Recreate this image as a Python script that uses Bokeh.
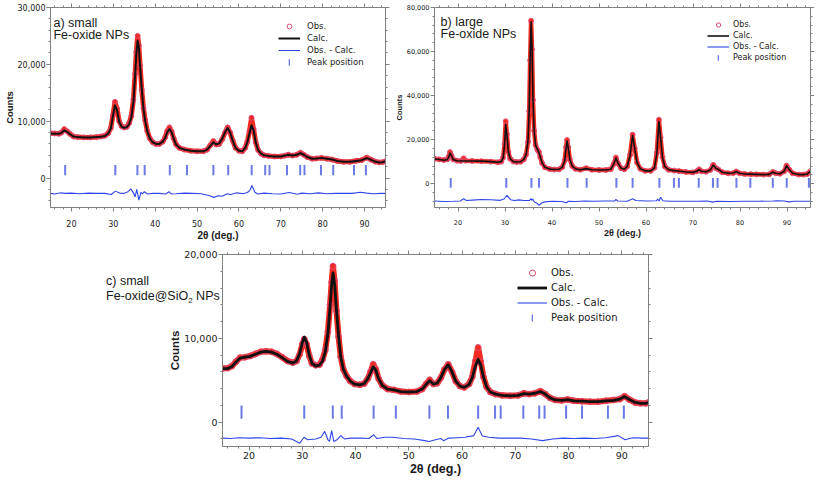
from bokeh.plotting import figure
from bokeh.models import (LinearAxis, SingleIntervalTicker, NumeralTickFormatter,
                          Range1d, Legend, LegendItem, Label, Div)
from bokeh.layouts import column, row
from bokeh.embed import file_html
from bokeh.resources import INLINE

# ---------------- panel a : small Fe-oxide NPs ----------------
a_x = [15.0, 16.0, 17.0, 17.6, 18.3, 19.0, 19.6, 20.5, 21.5, 23.0, 24.5, 26.0, 27.0, 28.0,
       28.8, 29.4, 29.9, 30.4, 30.9, 31.4, 32.0, 32.6, 33.2, 33.8, 34.3, 34.8, 35.2, 35.5,
       35.8, 36.1, 36.4, 36.8, 37.2, 37.6, 38.1, 38.7, 39.4, 40.2, 41.0, 41.8, 42.4, 42.9,
       43.4, 43.9, 44.4, 45.0, 45.8, 47.0, 48.5, 50.0, 51.5, 52.4, 53.2, 53.9, 54.6, 55.3,
       56.0, 56.7, 57.3, 57.9, 58.5, 59.2, 60.0, 60.8, 61.5, 62.0, 62.5, 63.0, 63.5, 64.0,
       64.6, 65.3, 66.0, 67.0, 68.5, 70.0, 71.0, 71.8, 72.8, 73.8, 74.7, 75.5, 76.3, 77.5,
       78.5, 79.7, 81.0, 82.3, 83.5, 85.0, 86.5, 88.0, 89.3, 90.5, 91.5, 92.5, 93.5, 94.3, 95.0]
a_obs = [7900, 7850, 7800, 8000, 8600, 8200, 7800, 7300, 7200, 7150, 7150, 7200, 7300, 7450,
         7900, 8800, 11000, 13400, 12200, 10000, 9100, 8900, 9000, 9700, 10900, 13800, 18300, 22200,
         25000, 23300, 19800, 15500, 12300, 10200, 8300, 7000, 6300, 6000, 6000, 6400, 7200, 8300,
         8900, 8200, 7000, 5900, 5300, 5000, 4800, 4700, 4700, 5000, 5800, 6500, 5900, 6000,
         6800, 8000, 8900, 8000, 6600, 5300, 4800, 4700, 5300, 6400, 8200, 10600, 8600, 6300,
         4900, 4300, 4000, 3900, 3800, 3800, 3950, 4100, 3950, 4100, 4450, 4100, 3700, 3400,
         3450, 3550, 3400, 3250, 3000, 2850, 2850, 3050, 3150, 3600, 3250, 2900, 2750, 2800, 2950]
a_calc = [7850, 7800, 7780, 7950, 8400, 8100, 7750, 7300, 7200, 7150, 7150, 7200, 7250, 7400,
          7850, 8700, 10900, 12800, 11900, 9900, 9000, 8850, 8950, 9500, 10700, 13400, 17900, 21800,
          24200, 23100, 19600, 15600, 12200, 10100, 8300, 7000, 6300, 6000, 6000, 6400, 7100, 8100,
          8600, 8100, 7000, 5900, 5300, 5000, 4800, 4700, 4700, 5000, 5700, 6300, 5900, 6100,
          6900, 8100, 8800, 8000, 6600, 5300, 4800, 4700, 5300, 6300, 7800, 9300, 8400, 6300,
          4900, 4300, 4000, 3900, 3800, 3800, 3950, 4100, 3950, 4100, 4400, 4100, 3700, 3400,
          3450, 3550, 3400, 3250, 3000, 2850, 2850, 3000, 3150, 3500, 3250, 2900, 2750, 2800, 2950]
a_dx = [15, 16, 17.5, 18.5, 20, 22, 24, 26, 28, 29.5, 30.5, 31.5, 32.5, 33.5, 34.2, 34.8, 35.2,
        35.6, 36.1, 36.6, 37.0, 37.4, 38.2, 39.5, 41, 42.5, 43.3, 43.8, 45, 47, 49, 51, 53, 54,
        55, 56, 57.2, 58, 59.5, 61, 62, 62.6, 63.1, 63.8, 64.5, 66, 68, 70, 72, 74, 75, 77, 79,
        81, 83, 85, 87, 89, 90.5, 92, 94, 95]
a_diff = [-2700, -2800, -2600, -2700, -2650, -2750, -2650, -2700, -2700, -2900, -2300, -2650,
          -2700, -2400, -1900, -2600, -3300, -2000, -3900, -2500, -2800, -2400, -2800, -2700,
          -2700, -2800, -2400, -2800, -2750, -2650, -2700, -2750, -3100, -3400, -3100, -3200,
          -2750, -2900, -2600, -2750, -2550, -2200, -1300, -2500, -2800, -2650, -2750, -2800,
          -2550, -2850, -2650, -2750, -2600, -2750, -2700, -2700, -2700, -2500, -2650, -2750,
          -2700, -2700]
a_peaks = [18.5, 30.48, 35.76, 37.49, 43.49, 47.59, 53.9, 57.44, 63.04, 66.27, 67.3, 71.47,
           74.63, 75.65, 79.59, 82.51, 87.48, 90.31]

# ---------------- panel b : large Fe-oxide NPs ----------------
b_x = [15.0, 16.0, 17.0, 17.7, 18.0, 18.3, 18.6, 19.0, 19.8, 20.6, 21.2, 21.6, 23.0, 25.0,
       27.0, 28.5, 29.2, 29.6, 29.9, 30.15, 30.4, 30.7, 31.1, 31.8, 32.5, 33.3, 34.0, 34.5,
       34.9, 35.15, 35.35, 35.55, 35.75, 35.95, 36.2, 36.5, 36.9, 37.2, 37.5, 37.9, 38.5, 39.5,
       40.5, 41.5, 42.2, 42.7, 43.0, 43.2, 43.45, 43.8, 44.3, 45.0, 46.0, 47.3, 48.5, 50.0,
       51.5, 52.5, 53.1, 53.6, 54.1, 54.7, 55.4, 56.0, 56.6, 57.15, 57.6, 58.1, 58.8, 59.8,
       61.0, 61.8, 62.3, 62.75, 63.1, 63.5, 64.0, 64.8, 66.0, 67.0, 68.5, 70.0, 70.8, 71.3,
       71.8, 72.8, 73.7, 74.3, 74.9, 75.4, 76.2, 77.5, 78.6, 79.2, 79.9, 81.0, 82.3, 83.5,
       85.0, 86.2, 87.0, 87.6, 88.5, 89.4, 89.9, 90.5, 91.2, 92.5, 93.5, 94.3, 95.0]
b_obs = [11300, 11000, 10700, 11000, 12200, 14300, 12800, 11000, 10400, 10300, 11500, 10400,
         10300, 10200, 10000, 9700, 10000, 11800, 18000, 28300, 22500, 14500, 11300, 10000,
         9800, 9900, 11000, 13200, 19000, 33000, 56000, 74000, 61000, 38000, 24000, 17500,
         15300, 14500, 12000, 9300, 7400, 6600, 6400, 6500, 7500, 10500, 16500, 19800, 16500,
         11000, 8000, 6700, 6300, 7000, 6300, 6200, 6200, 6500, 8800, 11800, 9000, 7000, 6500,
         7800, 13000, 22200, 16000, 9500, 6700, 5800, 5800, 7200, 14000, 29000, 21000, 12000,
         7800, 6300, 5900, 5700, 5300, 5100, 5600, 6500, 5600, 5400, 6200, 8500, 7000, 6400,
         5200, 4700, 4800, 5500, 4700, 4400, 4300, 4200, 4100, 4200, 5300, 4700, 4500, 5600,
         8200, 6300, 4700, 4100, 4100, 4400, 5700]
b_calc = [11200, 10950, 10650, 10900, 11900, 13900, 12700, 10900, 10400, 10300, 10300, 10300,
          10300, 10200, 10000, 9700, 10000, 11700, 17500, 26800, 22200, 14700, 11300, 10000,
          9800, 9900, 11000, 13300, 19500, 34000, 57000, 73500, 62000, 38500, 24000, 17500,
          15500, 14300, 12200, 9400, 7400, 6600, 6400, 6500, 7500, 10400, 16000, 19300, 16300,
          11000, 8000, 6700, 6300, 6800, 6300, 6200, 6200, 6500, 8700, 11600, 9100, 7000, 6500,
          7800, 12800, 21800, 16000, 9500, 6700, 5800, 5800, 7200, 13500, 28200, 21000, 12000,
          7800, 6300, 5900, 5700, 5300, 5100, 5600, 6400, 5600, 5400, 6200, 8400, 7000, 6400,
          5200, 4700, 4800, 5500, 4700, 4400, 4300, 4200, 4100, 4200, 5200, 4700, 4500, 5600,
          8100, 6300, 4700, 4100, 4100, 4400, 5600]
b_dx = [15, 17, 19, 20.5, 21.2, 21.8, 23, 25, 27, 29, 29.8, 30.4, 31.2, 32, 33, 34, 35.2, 35.5,
        35.7, 35.9, 36.3, 36.8, 37.2, 37.8, 38.5, 40, 42, 43.1, 43.5, 45, 47, 49, 51, 53.3, 53.6,
        54, 56, 57.2, 57.8, 60, 62.2, 62.5, 62.8, 63.1, 63.6, 65, 68, 71, 73, 74.2, 75, 78, 81,
        84, 87, 88, 89.5, 90.3, 91.5, 93, 95]
b_diff = [-7900, -8100, -8000, -7900, -6900, -7700, -7500, -7200, -7300, -7600, -7000, -5300,
          -7300, -7700, -7400, -7700, -7700, -6800, -7600, -7000, -8500, -8800, -9900, -8800,
          -8300, -8000, -8100, -8700, -8000, -8100, -7900, -8000, -7900, -7900, -7200, -7900,
          -8000, -6900, -7700, -7900, -7800, -7100, -7900, -6200, -7800, -8000, -8000, -8000,
          -7900, -8400, -8000, -8100, -8000, -8000, -7900, -7800, -7900, -8300, -8000, -8000,
          -8000]
b_peaks = [18.45, 30.27, 35.62, 37.24, 43.29, 47.37, 53.7, 57.15, 62.85, 65.94, 67.0, 71.22,
           74.24, 75.23, 79.24, 82.2, 86.98, 89.94, 94.66]

# ---------------- panel c : small Fe-oxide@SiO2 NPs ----------------
c_x = [15.0, 16.0, 16.8, 17.5, 18.3, 19.2, 20.2, 21.2, 22.2, 23.2, 24.2, 25.2, 26.2, 27.2,
       28.2, 28.9, 29.5, 30.0, 30.35, 30.8, 31.3, 31.8, 32.5, 33.2, 33.8, 34.3, 34.8, 35.2,
       35.5, 35.75, 36.05, 36.4, 36.8, 37.2, 37.7, 38.3, 39.0, 39.8, 40.8, 41.6, 42.3, 42.8,
       43.3, 43.8, 44.3, 45.0, 46.0, 47.2, 48.5, 50.0, 51.5, 52.5, 53.3, 53.9, 54.6, 55.3,
       56.0, 56.7, 57.4, 58.1, 58.8, 59.6, 60.4, 61.3, 61.9, 62.5, 63.0, 63.5, 64.0, 64.6,
       65.3, 66.3, 67.5, 69.0, 70.5, 71.6, 72.6, 73.7, 74.7, 75.6, 76.5, 77.5, 78.7, 79.8,
       81.0, 82.5, 84.0, 85.5, 87.0, 88.5, 89.6, 90.5, 91.4, 92.5, 93.5, 94.5, 95.0]
c_obs = [6400, 6450, 6700, 7200, 7700, 7750, 7900, 8150, 8400, 8450, 8400, 8150, 7750, 7300,
         7100, 7300, 8100, 9300, 9900, 9300, 7900, 7000, 6800, 6850, 7500, 8600, 10800, 14000,
         16700, 18600, 16800, 13300, 10200, 7800, 6300, 5500, 4900, 4550, 4450, 4600, 5200, 6000,
         6900, 6300, 5200, 4400, 3950, 3850, 3650, 3600, 3650, 3950, 4600, 5050, 4550, 4650,
         5300, 6300, 6900, 6000, 4900, 4300, 4150, 4550, 5400, 7300, 8900, 7200, 5400, 4200,
         3600, 3350, 3200, 3150, 3200, 3450, 3350, 3450, 3700, 3350, 2900, 2650, 2600, 2700,
         2550, 2500, 2450, 2450, 2550, 2650, 2750, 3100, 2700, 2350, 2250, 2250, 2350]
c_calc = [6400, 6400, 6650, 7150, 7650, 7750, 7850, 8100, 8350, 8450, 8350, 8100, 7700, 7250,
          7050, 7300, 8200, 9500, 10150, 9500, 8000, 7000, 6700, 6800, 7300, 8400, 10600, 13800,
          16400, 17800, 16500, 13400, 10300, 7800, 6300, 5500, 4900, 4550, 4450, 4600, 5200, 5900,
          6600, 6200, 5200, 4400, 3950, 3850, 3650, 3600, 3650, 3950, 4550, 4950, 4550, 4650,
          5300, 6300, 6850, 6000, 4900, 4300, 4150, 4500, 5300, 6700, 7500, 6800, 5400, 4200,
          3600, 3350, 3200, 3150, 3200, 3400, 3350, 3450, 3650, 3350, 2900, 2650, 2600, 2700,
          2550, 2500, 2450, 2450, 2550, 2600, 2750, 3050, 2700, 2350, 2250, 2250, 2350]
c_dx = [15, 16.5, 18, 20, 22, 24, 26, 28, 29.5, 30.3, 31, 32.5, 33.5, 34.2, 34.8, 35.1, 35.5,
        35.9, 36.5, 37.2, 37.9, 39, 41, 42.5, 43.4, 44, 45.5, 47, 49, 51, 53, 53.8, 55, 56,
        56.5, 57.5, 59, 60.5, 62.2, 63.0, 63.8, 65, 67, 69, 71, 73, 75.1, 77, 79, 81, 83, 85,
        87, 89.3, 90.6, 92, 94, 95]
c_diff = [-1900, -1950, -1850, -1900, -1850, -1950, -1900, -2000, -2500, -1800, -2100, -2000,
          -1800, -1100, -2100, -2300, -1000, -2300, -2100, -1600, -2000, -1900, -1900, -1950,
          -1500, -1950, -1800, -1800, -1950, -2000, -2200, -2300, -2100, -1950, -2200, -1900,
          -1850, -1800, -1600, -600, -1650, -1800, -1900, -1900, -1900, -2000, -2200, -2000,
          -1900, -1950, -1900, -1950, -1850, -1600, -2100, -1850, -1900, -1900]
c_peaks = [18.57, 30.35, 35.71, 37.39, 43.38, 47.55, 53.85, 57.34, 63.01, 66.19, 67.25, 71.49,
           74.48, 75.48, 79.53, 82.52, 87.38, 90.37]

legend_labels = ["Obs.", "Calc.", "Obs. - Calc.", "Peak position"]

GREY = "#808080"
RED = "#f22a22"
RED_EDGE = "#dc4a70"
BLUE = "#2f47e6"
PEAK = "#6c7ae6"
TXT = "#1a1a1a"


def style_axis(ax, size, show, standoff=1):
    ax.axis_line_color = GREY
    ax.major_tick_line_color = GREY
    ax.minor_tick_line_color = GREY
    ax.major_tick_out = 4
    ax.major_tick_in = 0
    ax.minor_tick_out = 2
    ax.minor_tick_in = 0
    ax.major_label_text_font = "DejaVu Sans"
    if show:
        ax.major_label_text_color = TXT
        ax.major_label_text_font_size = size
        ax.major_label_standoff = standoff
    else:
        ax.major_label_text_color = None
        ax.major_label_text_font_size = "0px"
        ax.major_label_standoff = 0


def panel(x, obs, calc, dx, diff, peaks, c):
    p = figure(frame_width=c["fw"], frame_height=c["fh"],
               x_range=Range1d(15, 95), y_range=Range1d(c["ylo"], c["yhi"]),
               output_backend="svg", toolbar_location=None,
               min_border_left=c["bl"], min_border_right=c["br"],
               min_border_top=c["bt"], min_border_bottom=c["bb"],
               background_fill_color="white", border_fill_color="white",
               outline_line_color=GREY)
    p.xgrid.visible = False
    p.ygrid.visible = False
    xt = SingleIntervalTicker(interval=10, num_minor_ticks=5)
    yt = SingleIntervalTicker(interval=c["yint"], num_minor_ticks=5)
    bottom = p.xaxis[0]
    left = p.yaxis[0]
    bottom.ticker = xt
    left.ticker = yt
    left.formatter = NumeralTickFormatter(format="0,0")
    style_axis(bottom, c["tick_fs"], True, c["xso"])
    style_axis(left, c["tick_fs"], True, 1)
    top = LinearAxis(ticker=xt)
    right = LinearAxis(ticker=yt)
    style_axis(top, "0px", False)
    style_axis(right, "0px", False)
    p.add_layout(top, "above")
    p.add_layout(right, "right")

    bottom.axis_label = "2θ (deg.)"
    left.axis_label = "Counts"
    for ax, fs in ((bottom, c["xlab_fs"]), (left, c["ylab_fs"])):
        ax.axis_label_text_font = "Liberation Sans"
        ax.axis_label_text_font_style = "bold"
        ax.axis_label_text_font_size = fs
        ax.axis_label_text_color = TXT
        ax.axis_label_standoff = 0

    p.line(x, obs, line_color=RED, line_width=c["band"], line_join="round")
    r_obs = p.scatter(x, obs, marker="circle", size=c["msize"], fill_color=None,
                      line_color=RED_EDGE, line_width=1)
    r_calc = p.line(x, calc, line_color="#111111", line_width=c["cw"], line_join="round")
    r_diff = p.line(dx, diff, line_color=BLUE, line_width=1.1)
    r_pk = p.rect(x=peaks, y=[c["pk_mid"]] * len(peaks), width=2, width_units="screen",
                  height=c["pk_h"], fill_color=PEAK, line_color=None)

    rh = c["rowh"]
    common = dict(padding=0, margin=0, spacing=0, border_line_color=None,
                  background_fill_alpha=0, label_text_font="DejaVu Sans",
                  label_text_font_size=c["leg_fs"], label_text_color=TXT,
                  label_height=rh)
    leg1 = Legend(items=[LegendItem(label=legend_labels[0], renderers=[r_obs]),
                         LegendItem(label=legend_labels[1], renderers=[r_calc]),
                         LegendItem(label=legend_labels[2], renderers=[r_diff])],
                  location=(c["lx"], c["fh"] - c["lt"] - 3 * rh),
                  glyph_width=c["gw"], glyph_height=rh, label_standoff=c["ls"], **common)
    leg2 = Legend(items=[LegendItem(label=legend_labels[3], renderers=[r_pk])],
                  location=(c["lx"] + c["gw"] // 2 - 1, c["fh"] - c["lt"] - 4 * rh),
                  glyph_width=2, glyph_height=c["pk_gh"],
                  label_standoff=c["ls"] + c["gw"] - c["gw"] // 2 - 1, **common)
    p.add_layout(leg1)
    p.add_layout(leg2)

    for (tx, ty, t) in c["labels"]:
        p.add_layout(Label(x=tx, y=ty, text=t, text_font="Liberation Sans",
                           text_font_size="12.5px", text_color=TXT,
                           text_align="left", text_baseline="middle"))
    return p


cfg_a = dict(fw=335, fh=200, bl=50, br=5, bt=7, bb=38, ylo=-5180, yhi=30000, yint=10000,
             tick_fs="8px", xlab_fs="10px", ylab_fs="9.5px", band=5, msize=5, cw=2, xso=8,
             pk_mid=1400, pk_h=1800, rowh=12, lx=228, lt=13, gw=22, ls=7, pk_gh=8,
             leg_fs="8.5px",
             labels=[(15.7, 27240, "a) small"), (15.7, 25075, "Fe-oxide NPs")])
cfg_b = dict(fw=376, fh=200, bl=44, br=4, bt=7, bb=38, ylo=-10850, yhi=80000, yint=20000,
             tick_fs="6.5px", xlab_fs="9px", ylab_fs="7.5px", band=4.5, msize=5, cw=1.6, xso=8,
             pk_mid=350, pk_h=4500, rowh=11, lx=273, lt=12, gw=22, ls=4, pk_gh=7,
             leg_fs="8px",
             labels=[(16.3, 73640, "b) large"), (16.3, 67740, "Fe-oxide NPs")])
cfg_c = dict(fw=426, fh=192, bl=72, br=12, bt=9, bb=36, ylo=-2900, yhi=20000, yint=10000,
             tick_fs="9.5px", xlab_fs="12.5px", ylab_fs="11.5px", band=6, msize=6, cw=2.8, xso=1,
             pk_mid=1200, pk_h=1600, rowh=15, lx=295, lt=11, gw=30, ls=4, pk_gh=9,
             leg_fs="10px", labels=[])

pa = panel(a_x, a_obs, a_calc, a_dx, a_diff, a_peaks, cfg_a)
pb = panel(b_x, b_obs, b_calc, b_dx, b_diff, b_peaks, cfg_b)
pc = panel(c_x, c_obs, c_calc, c_dx, c_diff, c_peaks, cfg_c)

c_title = Div(
    text=("<div style=\"margin-left:106px;margin-top:29px;font-family:'Liberation Sans';"
          "font-size:12.5px;line-height:15px;color:#1a1a1a;white-space:nowrap;overflow:visible\">"
          "c) small<br>Fe-oxide@SiO<span style=\"font-size:8px;position:relative;top:3px\">2</span> NPs"
          "</div>"),
    width=150, height=237, margin=0,
    styles={"overflow": "visible", "z-index": "5", "position": "relative"})

layout = column(row(pa, pb), row(c_title, pc))
open("out.html", "w").write(file_html(layout, INLINE))
